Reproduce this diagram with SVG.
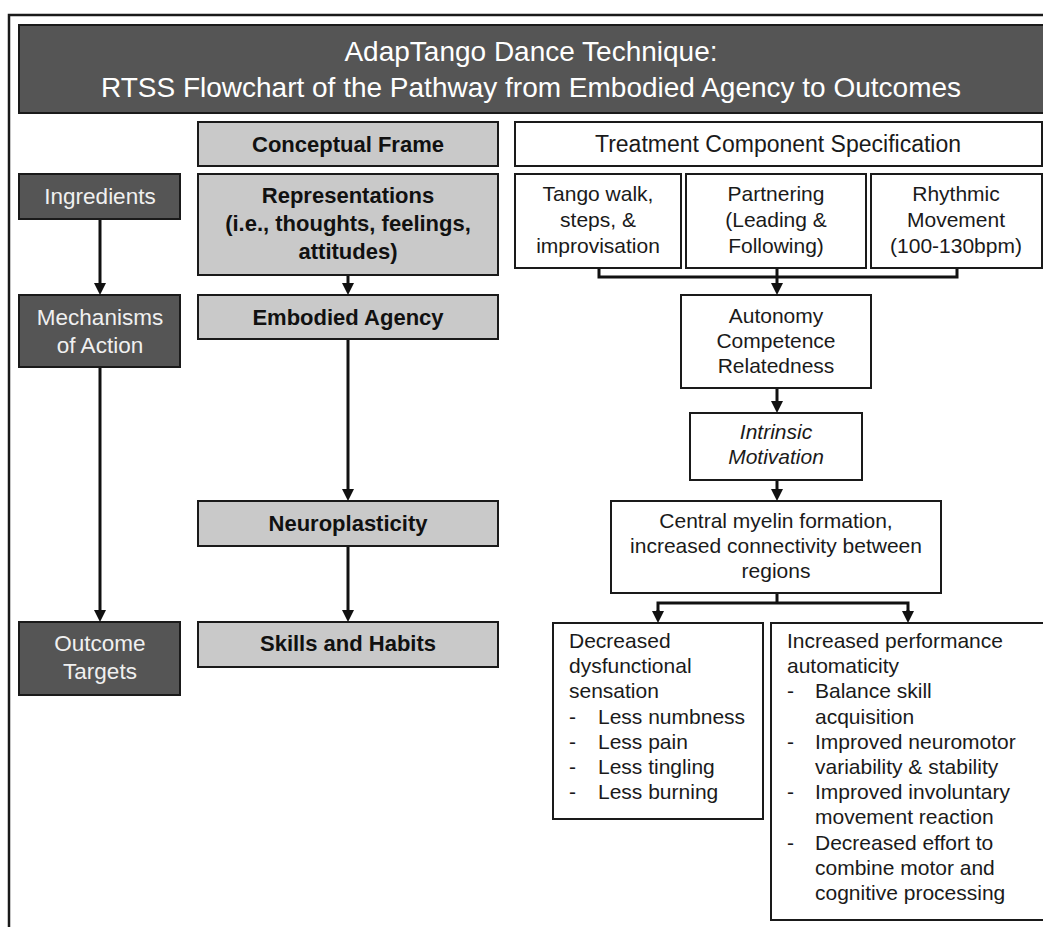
<svg xmlns="http://www.w3.org/2000/svg" width="1043" height="927" viewBox="0 0 1043 927">
<style>
text{font-family:"Liberation Sans",Arial,sans-serif;}
.dark{fill:#555555;stroke:#1a1a1a;stroke-width:2;}
.gray{fill:#c9c9c9;stroke:#1a1a1a;stroke-width:2;}
.white{fill:#ffffff;stroke:#1a1a1a;stroke-width:2;}
.title{font-size:28px;fill:#ffffff;text-anchor:middle;}
.lbl{font-size:22.5px;fill:#f0f0f0;text-anchor:middle;}
.bold{font-size:22px;font-weight:bold;fill:#111111;text-anchor:middle;}
.txt{font-size:21px;fill:#1a1a1a;text-anchor:middle;}
.big{font-size:23px;}
.it{font-style:italic;}
.lt{font-size:21px;fill:#1a1a1a;}
.conn{fill:none;stroke:#111111;stroke-width:3;}
</style>
<defs>
<marker id="ah" markerUnits="userSpaceOnUse" markerWidth="14" markerHeight="14" refX="6" refY="6" orient="auto">
<path d="M0,0 L12,6 L0,12 z" fill="#111111"/>
</marker>
</defs>
<rect x="0" y="0" width="1043" height="927" fill="#ffffff"/>
<path d="M9,927 V15 H1043" fill="none" stroke="#1a1a1a" stroke-width="2.5"/>

<g id="title">
<rect class="dark" x="19" y="25" width="1030" height="88"/>
<text class="title" x="531" y="61">AdapTango Dance Technique:</text>
<text class="title" x="531" y="97">RTSS Flowchart of the Pathway from Embodied Agency to Outcomes</text>
</g>

<g id="ingredients">
<rect class="dark" x="19" y="174" width="161" height="45"/>
<text class="lbl" x="100" y="204">Ingredients</text>
</g>
<g id="mechanisms">
<rect class="dark" x="19" y="295" width="161" height="72"/>
<text class="lbl" x="100" y="325">Mechanisms</text>
<text class="lbl" x="100" y="353">of Action</text>
</g>
<g id="outcome-targets">
<rect class="dark" x="19" y="622" width="161" height="73"/>
<text class="lbl" x="100" y="651">Outcome</text>
<text class="lbl" x="100" y="679">Targets</text>
</g>

<g id="conceptual-frame">
<rect class="gray" x="198" y="122" width="300" height="44"/>
<text class="bold" x="348" y="152">Conceptual Frame</text>
</g>
<g id="representations">
<rect class="gray" x="198" y="174" width="300" height="101"/>
<text class="bold" x="348" y="203">Representations</text>
<text class="bold" x="348" y="231">(i.e., thoughts, feelings,</text>
<text class="bold" x="348" y="259">attitudes)</text>
</g>
<g id="embodied-agency">
<rect class="gray" x="198" y="295" width="300" height="44"/>
<text class="bold" x="348" y="325">Embodied Agency</text>
</g>
<g id="neuroplasticity">
<rect class="gray" x="198" y="501" width="300" height="45"/>
<text class="bold" x="348" y="531">Neuroplasticity</text>
</g>
<g id="skills-habits">
<rect class="gray" x="198" y="622" width="300" height="45"/>
<text class="bold" x="348" y="651">Skills and Habits</text>
</g>

<g id="treatment-spec">
<rect class="white" x="515" y="122" width="527" height="44"/>
<text class="txt big" x="778" y="152">Treatment Component Specification</text>
</g>
<g id="tango-walk">
<rect class="white" x="515" y="174" width="166" height="94"/>
<text class="txt" x="598" y="201">Tango walk,</text>
<text class="txt" x="598" y="227">steps, &amp;</text>
<text class="txt" x="598" y="253">improvisation</text>
</g>
<g id="partnering">
<rect class="white" x="686" y="174" width="180" height="94"/>
<text class="txt" x="776" y="201">Partnering</text>
<text class="txt" x="776" y="227">(Leading &amp;</text>
<text class="txt" x="776" y="253">Following)</text>
</g>
<g id="rhythmic">
<rect class="white" x="871" y="174" width="171" height="94"/>
<text class="txt" x="956" y="201">Rhythmic</text>
<text class="txt" x="956" y="227">Movement</text>
<text class="txt" x="956" y="253">(100-130bpm)</text>
</g>
<g id="autonomy">
<rect class="white" x="681" y="295" width="190" height="93"/>
<text class="txt" x="776" y="323">Autonomy</text>
<text class="txt" x="776" y="348">Competence</text>
<text class="txt" x="776" y="373">Relatedness</text>
</g>
<g id="intrinsic-motivation">
<rect class="white" x="690" y="413" width="172" height="67"/>
<text class="txt it" x="776" y="439">Intrinsic</text>
<text class="txt it" x="776" y="464">Motivation</text>
</g>
<g id="central-myelin">
<rect class="white" x="611" y="501" width="330" height="92"/>
<text class="txt" x="776" y="528">Central myelin formation,</text>
<text class="txt" x="776" y="553">increased connectivity between</text>
<text class="txt" x="776" y="578">regions</text>
</g>
<g id="decreased-sensation">
<rect class="white" x="553" y="623" width="210" height="196"/>
<text class="lt" x="569" y="648">Decreased</text>
<text class="lt" x="569" y="673">dysfunctional</text>
<text class="lt" x="569" y="698">sensation</text>
<text class="lt" x="569" y="724">-</text><text class="lt" x="598" y="724">Less numbness</text>
<text class="lt" x="569" y="749">-</text><text class="lt" x="598" y="749">Less pain</text>
<text class="lt" x="569" y="774">-</text><text class="lt" x="598" y="774">Less tingling</text>
<text class="lt" x="569" y="799">-</text><text class="lt" x="598" y="799">Less burning</text>
</g>
<g id="increased-automaticity">
<rect class="white" x="771" y="623" width="280" height="297"/>
<text class="lt" x="787" y="648">Increased performance</text>
<text class="lt" x="787" y="673">automaticity</text>
<text class="lt" x="787" y="698">-</text><text class="lt" x="815" y="698">Balance skill</text>
<text class="lt" x="815" y="724">acquisition</text>
<text class="lt" x="787" y="749">-</text><text class="lt" x="815" y="749">Improved neuromotor</text>
<text class="lt" x="815" y="774">variability &amp; stability</text>
<text class="lt" x="787" y="799">-</text><text class="lt" x="815" y="799">Improved involuntary</text>
<text class="lt" x="815" y="824">movement reaction</text>
<text class="lt" x="787" y="850">-</text><text class="lt" x="815" y="850">Decreased effort to</text>
<text class="lt" x="815" y="875">combine motor and</text>
<text class="lt" x="815" y="900">cognitive processing</text>
</g>

<g id="connectors">
<path class="conn" d="M100,220 V289" marker-end="url(#ah)"/>
<path class="conn" d="M100,368 V616" marker-end="url(#ah)"/>
<path class="conn" d="M348,276 V289" marker-end="url(#ah)"/>
<path class="conn" d="M348,340 V495" marker-end="url(#ah)"/>
<path class="conn" d="M348,547 V616" marker-end="url(#ah)"/>
<path class="conn" d="M599,269 V277 H957 V269"/>
<path class="conn" d="M777,269 V289" marker-end="url(#ah)"/>
<path class="conn" d="M777,389 V407" marker-end="url(#ah)"/>
<path class="conn" d="M777,481 V495" marker-end="url(#ah)"/>
<path class="conn" d="M777,594 V603"/>
<path class="conn" d="M658,617 V603 H908 V617"/>
<path class="conn" d="M658,610 V617" marker-end="url(#ah)"/>
<path class="conn" d="M908,610 V617" marker-end="url(#ah)"/>
</g>
</svg>
